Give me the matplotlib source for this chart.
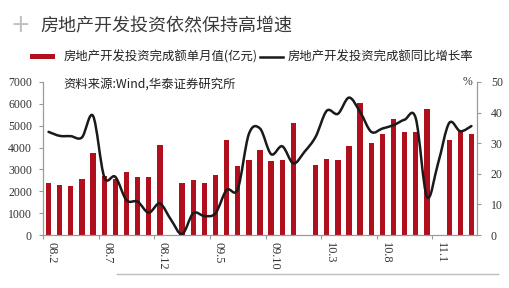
import matplotlib
matplotlib.use("Agg")
import matplotlib.pyplot as plt
import numpy as np
from matplotlib.path import Path
from matplotlib.patches import PathPatch, Rectangle
from matplotlib.lines import Line2D
from matplotlib.transforms import ScaledTranslation

plt.rcParams['font.family'] = ['Noto Sans CJK SC', 'DejaVu Sans']

# ---- data ----
months = ["08.2", "08.3", "08.4", "08.5", "08.6", "08.7", "08.8", "08.9", "08.10", "08.11", "08.12",
          "09.1", "09.2", "09.3", "09.4", "09.5", "09.6", "09.7", "09.8", "09.9", "09.10", "09.11", "09.12",
          "10.1", "10.2", "10.3", "10.4", "10.5", "10.6", "10.7", "10.8", "10.9", "10.10", "10.11", "10.12",
          "11.1", "11.2", "11.3", "11.4"]
monthly_value = [2380, 2300, 2260, 2580, 3760, 2690, 2580, 2900, 2640, 2640, 4110,
                 np.nan, 2380, 2500, 2380, 2760, 4340, 3150, 3420, 3880, 3380, 3450, 5110,
                 np.nan, 3180, 3490, 3410, 4070, 6030, 4220, 4640, 5330, 4710, 4730, 5760,
                 np.nan, 4340, 4760, 4610]
yoy_growth = [33.7, 32.4, 32.3, 31.9, 38.9, 19.0, 19.0, 11.4, 10.9, 7.3, 10.3,
              5.0, 0.3, 7.1, 6.2, 7.1, 14.7, 15.0, 33.0, 34.8, 26.4, 29.0, 23.4,
              27.2, 32.1, 40.6, 39.6, 44.9, 40.2, 33.7, 34.8, 35.9, 37.7, 38.1, 12.5,
              23.4, 36.6, 33.9, 35.6]
tick_labels = ["08.2", "08.7", "08.12", "09.5", "09.10", "10.3", "10.8", "11.1"]
left_ticks = [0, 1000, 2000, 3000, 4000, 5000, 6000, 7000]
right_ticks = [0, 10, 20, 30, 40, 50]

title = "房地产开发投资依然保持高增速"
bar_label = "房地产开发投资完成额单月值(亿元)"
line_label = "房地产开发投资完成额同比增长率"
source = "资料来源:Wind,华泰证券研究所"

BAR_COLOR = "#B00F1E"
AXIS_COLOR = "#9a9a9a"
TEXT_COLOR = "#333333"
NUM_FONT = ['Liberation Serif', 'DejaVu Serif']

fig = plt.figure(figsize=(5.09, 2.88), dpi=100)
fig.patch.set_facecolor("white")

ax = fig.add_axes([43/509, 1-235/288, (477-43)/509, (235-82)/288])
ax2 = ax.twinx()

x = np.arange(len(months))
ax.bar(x, monthly_value, width=0.48, color=BAR_COLOR, zorder=2)
ax.set_xlim(-0.5, len(months) - 0.5)
ax.set_ylim(0, 7000)
ax.set_yticks(left_ticks)
ax.set_yticklabels([str(v) for v in left_ticks], fontfamily=NUM_FONT, fontsize=8.5, color=TEXT_COLOR)
ax.tick_params(axis='y', length=3, width=0.8, color=AXIS_COLOR, pad=5)

# x ticks: labels at category centres, tick marks between categories
major_pos = [months.index(t) for t in tick_labels]
ax.set_xticks(major_pos)
ax.set_xticklabels(tick_labels, rotation=-90, fontfamily=NUM_FONT, fontsize=8.8, color=TEXT_COLOR,
                   ha='center', va='top')
ax.tick_params(axis='x', which='major', length=0, pad=5)
ax.set_xticks([p - 0.5 for p in major_pos], minor=True)
ax.tick_params(axis='x', which='minor', length=3, width=0.8, color=AXIS_COLOR)
for lab in ax.get_xticklabels():
    lab.set_transform(lab.get_transform() + ScaledTranslation(3/100, 0, fig.dpi_scale_trans))

for sp in ['top']:
    ax.spines[sp].set_visible(False)
    ax2.spines[sp].set_visible(False)
for sp in ['left', 'bottom', 'right']:
    ax.spines[sp].set_color(AXIS_COLOR)
    ax.spines[sp].set_linewidth(0.8)
    ax2.spines[sp].set_color(AXIS_COLOR)
    ax2.spines[sp].set_linewidth(0.8)

ax2.set_ylim(0, 50)
ax2.set_yticks(right_ticks)
ax2.set_yticklabels([str(v) for v in right_ticks], fontfamily=NUM_FONT, fontsize=8.5, color=TEXT_COLOR)
ax2.tick_params(axis='y', length=3, width=0.8, color=AXIS_COLOR, pad=7)

# smoothed line (Catmull-Rom -> cubic Bezier, like Excel smoothing)
pts = np.column_stack([x, yoy_growth]).astype(float)
n = len(pts)
verts = [pts[0]]
codes = [Path.MOVETO]
for i in range(n - 1):
    p0 = pts[i - 1] if i > 0 else pts[i]
    p1 = pts[i]
    p2 = pts[i + 1]
    p3 = pts[i + 2] if i + 2 < n else pts[i + 1]
    c1 = p1 + (p2 - p0) / 6.0
    c2 = p2 - (p3 - p1) / 6.0
    verts += [c1, c2, p2]
    codes += [Path.CURVE4] * 3
ax2.add_patch(PathPatch(Path(verts, codes), facecolor='none', edgecolor='#1a1a1a', lw=1.8,
                        zorder=3, capstyle='round', joinstyle='round'))

# unit label
ax2.text(0.99, 1.0, "%", transform=ax2.transAxes, ha='right', va='center',
         fontfamily=NUM_FONT, fontsize=8.5, color=TEXT_COLOR)

# title with icon
fig.text(20/509, 1-25/288, "+", ha='center', va='center', fontsize=17, color='#c0c0c0',
         fontfamily='DejaVu Sans')
fig.text(40/509, 1-26/288, title, ha='left', va='center', fontsize=13, color='#3a3a3a')

# legend (manual)
fig.add_artist(Rectangle((30/509, 1-59/288), 25/509, 5.5/288, transform=fig.transFigure,
                         facecolor=BAR_COLOR, edgecolor='none'))
fig.text(64/509, 1-57/288, bar_label, ha='left', va='center', fontsize=8.9, color='#222222')
fig.add_artist(Line2D([260/509, 283/509], [1-56.5/288, 1-56.5/288], transform=fig.transFigure,
                      color='#1a1a1a', lw=1.8))
fig.text(288/509, 1-57/288, line_label, ha='left', va='center', fontsize=8.9, color='#222222')

# source
fig.text(63/509, 1-84/288, source, ha='left', va='center', fontsize=8.9, color='#222222')

# decorative bottom rule
fig.add_artist(Line2D([117/509, 498/509], [1-274/288, 1-274/288], transform=fig.transFigure,
                      color='#bdbdbd', lw=1.0))

fig.savefig("out.png", dpi=100, facecolor='white')
